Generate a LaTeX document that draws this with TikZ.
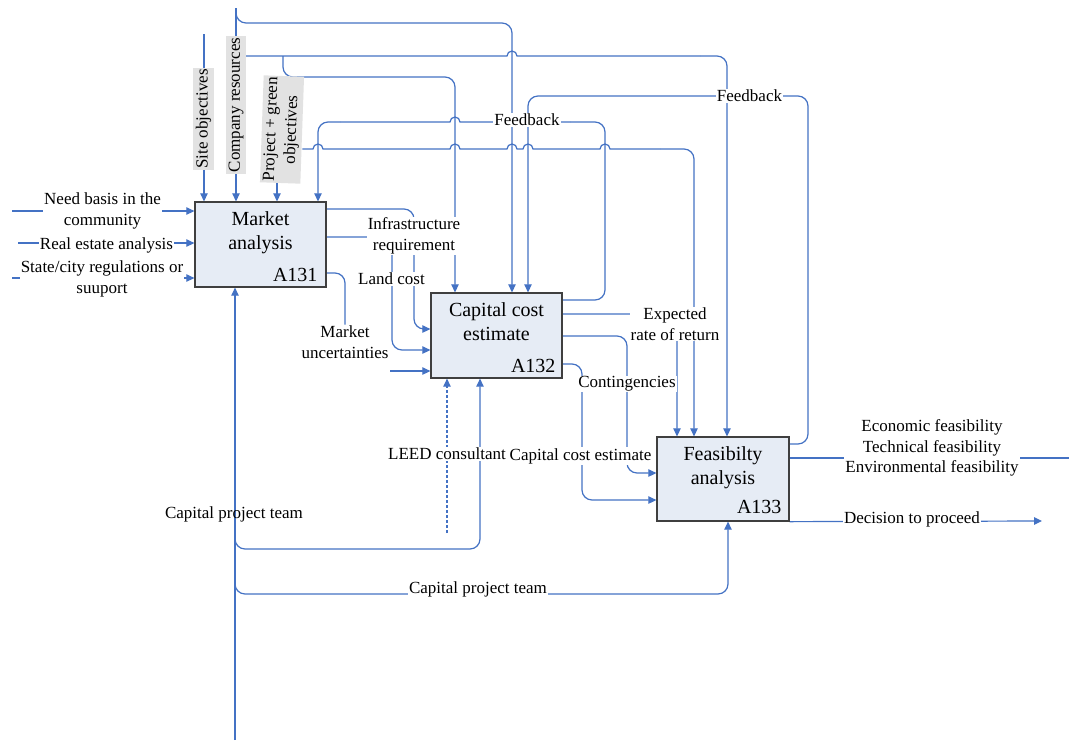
\documentclass[tikz,border=0pt]{standalone}
\usepackage{fontspec}
\setmainfont{Liberation Serif}
\usetikzlibrary{arrows.meta,backgrounds}
\definecolor{flow}{HTML}{4472C4}
\definecolor{boxfill}{HTML}{E6ECF5}
\definecolor{boxline}{HTML}{3F3F3F}
\definecolor{tagfill}{HTML}{E2E2E2}
\begin{document}
\begin{tikzpicture}[x=1pt,y=-1pt,
  activity/.style={draw=boxline,line width=1.3pt,fill=boxfill,minimum width=131pt,minimum height=85pt,inner sep=0pt},
  boxtitle/.style={anchor=north,align=center,inner sep=0pt,font=\fontsize{20}{24.5}\selectfont},
  boxcode/.style={anchor=base east,inner sep=0pt,font=\fontsize{20}{24}\selectfont},
  lbl/.style={fill=white,inner sep=1pt,align=center,font=\fontsize{17}{20.5}\selectfont},
  plainlbl/.style={inner sep=1pt,align=center,font=\fontsize{17}{20.5}\selectfont},
  tagbox/.style={fill=tagfill,rotate=90,inner xsep=1.5pt,inner ysep=2.5pt,align=center,font=\fontsize{17}{20.5}\selectfont},
  conn/.style={draw=flow,line width=1.2pt},
  arr/.style={conn,-{Triangle[length=8pt,width=7.5pt]}},
  rc/.style={rounded corners=10pt},
]
\useasboundingbox (0,0) rectangle (1069,740);

% activity boxes
\node[activity] (A131) at (260.5,244.5) {};
\node[activity] (A132) at (496.5,335.5) {};
\node[activity,minimum width=132pt,minimum height=84pt] (A133) at (723,479) {};
\node[boxtitle,below=10pt] (A131t) at (A131.north) {Market\\analysis};
\node[boxtitle,below=10pt] (A132t) at (A132.north) {Capital cost\\estimate};
\node[boxtitle,below=10pt] (A133t) at (A133.north) {Feasibilty\\analysis};
\node[boxcode] (A131c) at ([xshift=-9pt,yshift=6pt]A131.south east) {A131};
\node[boxcode] (A132c) at ([xshift=-7pt,yshift=6pt]A132.south east) {A132};
\node[boxcode] (A133c) at ([xshift=-8pt,yshift=8pt]A133.south east) {A133};

% control labels
\node[tagbox] (so) at (203.5,119) {Site objectives};
\node[tagbox] (cr) at (236,105) {Company resources};
\node[tagbox,rotate=-2] (pg) at (282,129.5) {Project + green\\objectives};

% arrow labels
\node[lbl] (nb) at (102.5,211) {Need basis in the\\community};
\node[lbl] (re) at (106.5,245) {Real estate analysis};
\node[lbl] (sc) at (102,279) {State/city regulations or\\suuport};
\node[lbl] (ir) at (414,236) {Infrastructure\\requirement};
\node[lbl] (lc) at (391.5,279) {Land cost};
\node[lbl] (mu) at (345,342) {Market\\uncertainties};
\node[lbl] (er) at (675,324) {Expected\\rate of return};
\node[lbl] (ct) at (627,384) {Contingencies};
\node[lbl] (lee) at (447,454) {LEED consultant};
\node[lbl] (ce) at (580.5,456) {Capital cost estimate};
\node[plainlbl] (cpa) at (234,514) {Capital project team};
\node[lbl] (cpb) at (478,589) {Capital project team};
\node[lbl] (fb1) at (527,120) {Feedback};
\node[lbl] (fb2) at (749.5,96) {Feedback};
\node[lbl] (fe) at (932,448) {Economic feasibility\\Technical feasibility\\Environmental feasibility};
\node[lbl] (dp) at (912,519) {Decision to proceed};

% free ends and branch points
\coordinate (so0) at (204,34);
\coordinate (cr0) at (236,8);
\coordinate (jcr) at (283,56);
\coordinate (cpt0) at (235,740);
\coordinate (jtA) at (235,528);
\coordinate (jtB) at (235,572);
\coordinate (leed0) at (447,533);
\coordinate (nb0) at (12,211);
\coordinate (re0) at (18,243);
\coordinate (sc0) at (12,278);
\coordinate (mu0) at (390,371);
\coordinate (fe0) at (1077,458);
\coordinate (dp0) at (1042,521);

\begin{pgfonlayer}{background}
\fill[white] (0,0) rectangle (1069,740);

% inputs of A131
\draw[arr] (nb0) -- (A131.west |- nb0);
\draw[arr] (re0) -- (A131.west |- re0);
\draw[arr] (sc0) -- (A131.west |- sc0);

% controls
\draw[arr] (so0) -- (so0 |- A131.north);
\draw[arr] (cr0) -- (cr0 |- A131.north);
\draw[arr] (pg.west -| 277,0) -- (277,0 |- A131.north);
\draw[arr,rc] (cr0) |- (512,23) -- (512,0 |- A132.north);
\draw[conn] (cr.south |- jcr) -- (507,56) arc[start angle=180,end angle=0,radius=5pt] -- (700,56);
\draw[arr,rc] (700,56) -| (727,0 |- A133.north);
\draw[arr,rc] (jcr) |- (455,77) -- (455,0 |- A132.north);
\draw[conn] (pg.south |- 0,149) -- (313,149) arc[start angle=180,end angle=0,radius=5pt]
  -- (450,149) arc[start angle=180,end angle=0,radius=5pt]
  -- (507,149) arc[start angle=180,end angle=0,radius=5pt]
  -- (523,149) arc[start angle=180,end angle=0,radius=5pt]
  -- (600,149) arc[start angle=180,end angle=0,radius=5pt] -- (660,149);
\draw[arr,rc] (660,149) -| (694,0 |- A133.north);

% feedback from A132 to A131
\draw[conn,rc] (A132.east |- 0,300) -| (605,122) -- (570,122);
\draw[conn] (570,122) -- (460,122) arc[start angle=0,end angle=180,radius=5pt] -- (340,122);
\draw[arr,rc] (340,122) -| (318,0 |- A131.north);

% feedback from A133 to A132
\draw[arr,rc] (A133.east |- 0,444) -| (808,96) -| (528,0 |- A132.north);

% outputs of A131
\draw[arr,rc] (A131.east |- 0,209) -| (414,329) -- (A132.west |- 0,329);
\draw[arr,rc] (A131.east |- 0,237) -| (392,350) -- (A132.west |- 0,350);
\draw[conn,rc] (A131.east |- 0,273) -| (mu.north);
\draw[arr] (mu0) -- (A132.west |- mu0);

% outputs of A132
\draw[arr,rc] (A132.east |- 0,314) -| (677,0 |- A133.north);
\draw[arr,rc] (A132.east |- 0,336) -| (627,473) -- (A133.west |- 0,473);
\draw[arr,rc] (A132.east |- 0,364) -| (582,500) -- (A133.west |- 0,500);

% outputs of A133
\draw[arr] (A133.east |- fe0) -- (fe0);
\draw[arr] (A133.south east) -- (dp0);

% mechanisms
\draw[arr] (cpt0) -- (cpt0 |- A131.south);
\draw[arr,rc] (jtA) |- (480,549) -- (480,0 |- A132.south);
\draw[arr,rc] (jtB) |- (728,594) -- (728,0 |- A133.south);
\draw[arr,dash pattern=on 3pt off 2pt] (leed0) -- (leed0 |- A132.south);
\end{pgfonlayer}
\end{tikzpicture}
\end{document}
